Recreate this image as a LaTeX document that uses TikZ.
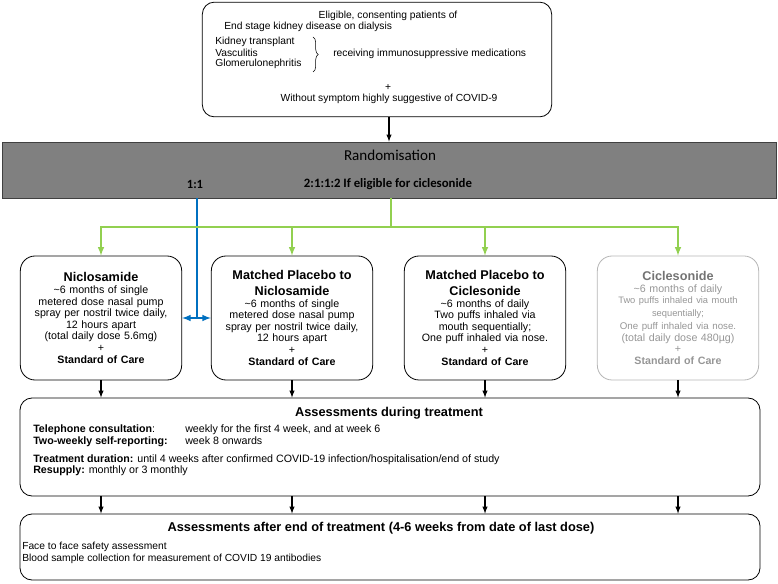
\documentclass[tikz,border=0pt]{standalone}
\usepackage{fontspec}
\setmainfont{Liberation Sans}
\newfontfamily\calfont{Carlito}
\usetikzlibrary{decorations.pathreplacing}

\definecolor{armgreen}{RGB}{146,208,80}
\definecolor{armblue}{RGB}{0,112,192}
\definecolor{fadegray}{RGB}{150,150,150}
\definecolor{randgray}{RGB}{128,128,128}
\newcommand{\armtitlefont}{\fontsize{9.5}{11}\selectfont\bfseries}

\begin{document}
\begin{tikzpicture}[x=0.75pt,y=0.75pt,yscale=-1,xscale=1,
  roundbox/.style={draw,rounded corners=9pt,line width=0.6pt,inner sep=0pt},
  armbox/.style={roundbox,rounded corners=11pt,minimum width=121pt,minimum height=93pt,
    align=center,text width=118pt,font=\fontsize{8}{8.7}\selectfont},
  toptext/.style={inner sep=0pt,font=\fontsize{7.7}{9}\selectfont},
  bodytext/.style={inner sep=0pt,anchor=base west,font=\fontsize{8}{9}\selectfont},
  flow/.style={->,>=latex,line width=0.8pt},
  greenflow/.style={flow,draw=armgreen,line width=1.2pt},
  blueflow/.style={>=latex,draw=armblue,line width=1.2pt}]
\useasboundingbox (0,0) rectangle (778,584);

% eligibility
\node[roundbox,minimum width=262pt,minimum height=86pt] (elig) at (377,59.5) {};
\node[toptext] (eligone) at (388,16) {Eligible, consenting patients of};
\node[toptext,anchor=west] (eligtwo) at (224,27) {End stage kidney disease on dialysis};
\node[toptext,anchor=west] (kidney) at (215,42) {Kidney transplant};
\node[toptext,anchor=west] (vascul) at (215,53) {Vasculitis};
\node[toptext,anchor=west] (glomer) at (215,64) {Glomerulonephritis};
\draw[decorate,decoration={brace,amplitude=4pt}] (313,37) -- (313,72);
\node[toptext,anchor=west] (receive) at (333,54) {receiving immunosuppressive medications};
\node[toptext] (plusone) at (388,88) {+};
\node[toptext] (nosymp) at (389,99) {Without symptom highly suggestive of COVID-9};

% randomisation
\node[draw=black!75,fill=randgray,line width=0.6pt,minimum width=580.5pt,minimum height=42pt,inner sep=0pt] (rand) at (389,170) {};
\node[inner sep=0pt,font=\calfont\fontsize{11.3}{12}\selectfont] (randtitle) at (390,155) {Randomisation};
\node[inner sep=0pt,font=\calfont\fontsize{9.4}{10}\selectfont\bfseries] (ratioone) at (195,184) {1:1};
\node[inner sep=0pt,font=\calfont\fontsize{9.6}{10}\selectfont\bfseries] (ratiotwo) at (388,184) {2:1:1:2 If eligible for ciclesonide};

% arms
\node[armbox] (nicl) at (101,318) {{\armtitlefont Niclosamide}\\
  \textasciitilde6 months of single\\ metered dose nasal pump\\ spray per nostril twice daily,\\ 12 hours apart\\
  (total daily dose 5.6mg)\\ +\\ \textbf{Standard of Care}};
\node[armbox] (plnicl) at (292,318) {{\armtitlefont Matched Placebo to}\\[3pt]{\armtitlefont Niclosamide}\\
  \textasciitilde6 months of single\\ metered dose nasal pump\\ spray per nostril twice daily,\\ 12 hours apart\\
  +\\ \textbf{Standard of Care}};
\node[armbox] (plcicl) at (485,318) {{\armtitlefont Matched Placebo to}\\[3pt]{\armtitlefont Ciclesonide}\\
  \textasciitilde6 months of daily\\ Two puffs inhaled via\\ mouth sequentially;\\ One puff inhaled via nose.\\
  +\\ \textbf{Standard of Care}};
\node[armbox,draw=fadegray!70,text=fadegray] (cicl) at (678,318) {{\armtitlefont\color{black!55}Ciclesonide}\\
  \textasciitilde6 months of daily\\ {\fontsize{7}{8}\selectfont Two puffs inhaled via mouth}\\[1pt]
  {\fontsize{7}{8}\selectfont sequentially;}\\[1pt] {\fontsize{7.3}{8}\selectfont One puff inhaled via nose.}\\
  (total daily dose 480µg)\\ +\\ \textbf{Standard of Care}};

% assessments
\node[roundbox,minimum width=555pt,minimum height=73.5pt] (during) at (390,447) {};
\node[inner sep=0pt,font=\fontsize{9.6}{11}\selectfont\bfseries] (durtitle) at (389,413) {Assessments during treatment};
\node[bodytext] (phone) at (33,432) {\textbf{Telephone consultation}:};
\node[bodytext] (phoneval) at (185,432) {weekly for the first 4 week, and at week 6};
\node[bodytext] (selfrep) at (33,444) {\textbf{Two-weekly self-reporting:}};
\node[bodytext] (selfval) at (185,444) {week 8 onwards};
\node[bodytext] (duration) at (33,462) {\textbf{Treatment duration:} until 4 weeks after confirmed COVID-19 infection/hospitalisation/end of study};
\node[bodytext] (resupply) at (33,473) {\textbf{Resupply:} monthly or 3 monthly};

\node[roundbox,minimum width=555pt,minimum height=49.5pt] (after) at (390,547) {};
\node[inner sep=0pt,font=\fontsize{9.6}{11}\selectfont\bfseries] (aftitle) at (381,528) {Assessments after end of treatment (4-6 weeks from date of last dose)};
\node[bodytext,font=\fontsize{7.7}{9}\selectfont] (facecheck) at (22,549) {Face to face safety assessment};
\node[bodytext,font=\fontsize{7.7}{9}\selectfont] (bloodtest) at (22,561) {Blood sample collection for measurement of COVID 19 antibodies};

% connectors
\draw[flow] (elig.south -| rand.north) -- (rand.north);
\coordinate (bluesplit) at (197,318);
\coordinate (greensplit) at (391,227);
\draw[blueflow] (rand.south -| bluesplit) -- (bluesplit);
\draw[blueflow,<->] (nicl.east) -- (plnicl.west);
\draw[draw=armgreen,line width=1.2pt] (rand.south -| greensplit) -- (greensplit);
\foreach \arm in {nicl,plnicl,plcicl,cicl}{
  \draw[greenflow] (greensplit) -| (\arm.north);
  \draw[flow] (\arm.south) -- (\arm.south |- during.north);
  \draw[flow] (during.south -| \arm) -- (after.north -| \arm);
}
\end{tikzpicture}
\end{document}
